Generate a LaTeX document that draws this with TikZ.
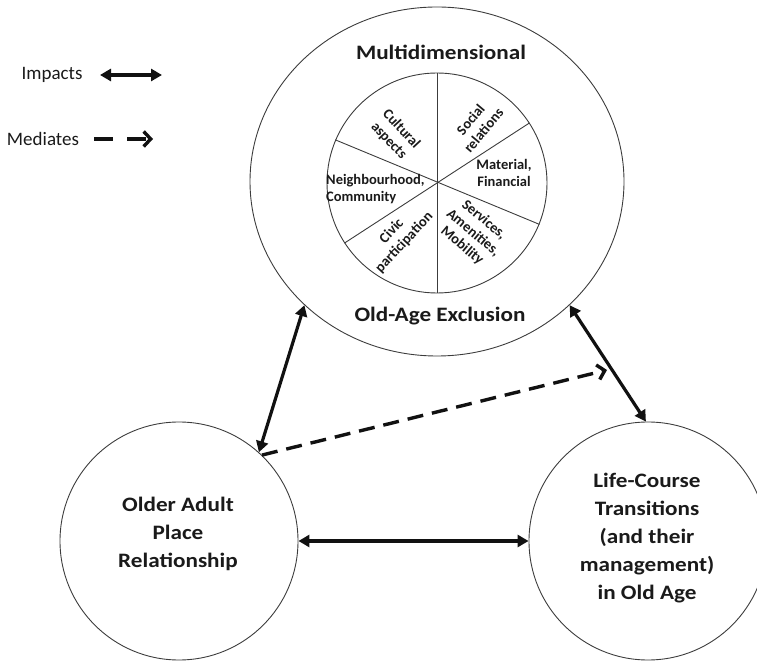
\documentclass[tikz,border=0pt]{standalone}
\usepackage{fontspec}
\setmainfont{Carlito}
\newfontfamily\wideFont[FakeStretch=1.13]{Carlito}
\usepackage{tikz}
\usetikzlibrary{arrows.meta,shapes.geometric}
\definecolor{lineGrey}{HTML}{3C3C3C}
\definecolor{arrowBlack}{HTML}{111111}
\definecolor{textBlack}{HTML}{1A1A1A}

\begin{document}
\begin{tikzpicture}[x=1pt,y=1pt,
  ring/.style={draw=lineGrey,line width=0.9pt,inner sep=0pt},
  bigtext/.style={textBlack,align=center,font=\wideFont\bfseries\fontsize{20.5}{28}\selectfont},
  slice/.style={textBlack,align=center,inner sep=0pt,font=\bfseries\fontsize{14.5}{17}\selectfont},
  impact/.style={arrowBlack,line width=3.2pt,{Triangle[length=11pt,width=12pt]}-{Triangle[length=11pt,width=12pt]}},
  mediate/.style={arrowBlack,line width=3.4pt,dash pattern=on 16pt off 9pt,-{Straight Barb[length=7pt,width=15pt]}},
  keytext/.style={textBlack,font=\fontsize{19}{22}\selectfont}]
\useasboundingbox (0,0) rectangle (757,664);

% legend
\node[keytext] (impactsKey) at (52,589) {Impacts};
\coordinate (impA) at (100,589);
\coordinate (impB) at (162,589);
\draw[impact] (impA) -- (impB);
\node[keytext] (mediatesKey) at (43,525) {Mediates};
\coordinate (medA) at (94,525);
\coordinate (medB) at (153,525);
\draw[mediate,dash pattern=on 19pt off 14pt] (medA) -- (medB);

% exclusion circle with its pie
\node[ring,ellipse,minimum width=374pt,minimum height=349pt] (excl) at (437,482.5) {};
\node[bigtext] (exclTop) at (441,612) {Multidimensional};
\node[bigtext] (exclBottom) at (440,347.5) {Old-Age Exclusion};
\node[ring,circle,minimum size=220pt] (pie) at (437,481) {};
\draw[lineGrey,line width=0.9pt] (pie.90) -- (pie.270);
\draw[lineGrey,line width=0.9pt] (pie.157.5) -- (pie.-22.5);
\draw[lineGrey,line width=0.9pt] (pie.33) -- (pie.213);
\node[slice,rotate=-47] (cultural) at (395,529) {Cultural\\aspects};
\node[slice,rotate=50] (social) at (477,539) {Social\\relations};
\node[slice] (material) at (504,491) {Material,\\Financial};
\node[slice,align=left,anchor=west] (neighbour) at (326,474.5) {Neighbourhood,\\Community};
\node[slice,rotate=47] (civic) at (398,427) {Civic\\participation};
\node[slice,rotate=-40] (services) at (473,431) {Services,\\Amenities,\\Mobility};

% the two lower circles
\node[ring,circle,minimum size=238pt] (place) at (179,123) {};
\node[bigtext] (placeText) at (178,130) {Older Adult\\Place\\Relationship};
\node[ring,circle,minimum size=238pt] (trans) at (648,123) {};
\node[bigtext] (transText) at (647,126) {Life-Course\\Transitions\\(and their\\management)\\in Old Age};

% connectors
\coordinate (medEnd) at (607,294);
\draw[impact] (place.48) -- (excl.223);
\draw[impact] (excl.317) -- (trans.91);
\draw[impact] (place) -- (trans);
\draw[mediate] (place.46) -- (medEnd);
\end{tikzpicture}
\end{document}
